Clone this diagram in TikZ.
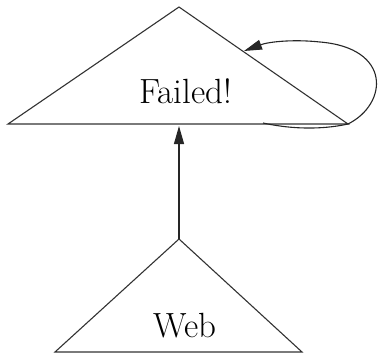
\documentclass[tikz,border=0pt]{standalone}
\usetikzlibrary{arrows.meta}
\begin{document}
\begin{tikzpicture}[x=1pt,y=-1pt,
  edge/.style={line width=1.1pt,draw=black!85},
  tri/.style={line width=1.1pt,draw=black!80,fill=white,line join=miter},
  tip/.style={-{Triangle[length=18pt,width=10pt]}},
  lbl/.style={font=\fontsize{35}{40}\selectfont,inner sep=0pt,anchor=base}]
\useasboundingbox (0,0) rectangle (382,354);
% triangle vertices
\coordinate (fa) at (179,7);
\coordinate (fl) at (8,124);
\coordinate (fr) at (348,124);
\coordinate (wa) at (179,239);
\coordinate (wl) at (55,352);
\coordinate (wr) at (302,352);
\coordinate (fb) at (179,126);
\coordinate (ls) at (263,123);
\coordinate (le) at (244,51);
% shapes
\draw[tri] (fa) -- (fl) -- (fr) -- cycle;
\draw[tri] (wa) -- (wl) -- (wr) -- cycle;
\node[lbl] (failed) at (185.5,103) {Failed!};
\node[lbl] (web) at (185,337) {Web};
% edges
\draw[edge,tip] (wa) -- (fb);
\draw[edge,tip] (ls) .. controls (300,131) and (330,128) .. (fr)
  .. controls (388,104) and (392,48) .. (320,42)
  .. controls (292,39) and (268,42) .. (le);
\end{tikzpicture}
\end{document}
